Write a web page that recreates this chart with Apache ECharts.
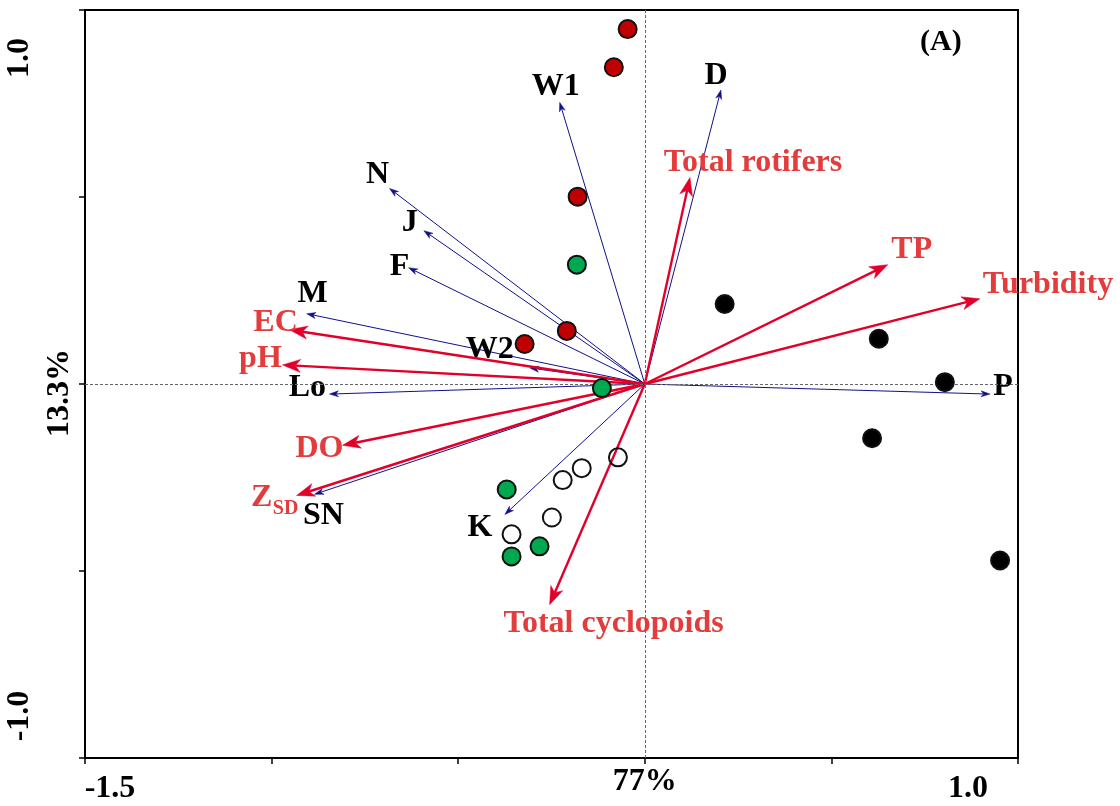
<!DOCTYPE html>
<html>
<head>
<meta charset="utf-8">
<script src="https://cdn.jsdelivr.net/npm/echarts@6/dist/echarts.min.js"></script>
<style>
html,body{margin:0;padding:0;background:#fff;}
#chart{width:1120px;height:806px;}
</style>
</head>
<body>
<div id="chart"></div>
<script>
// ---------- data ----------
// environmental variables (red arrows)
const envNames = ['Total rotifers', 'TP', 'Turbidity', 'EC', 'pH', 'DO', 'ZSD', 'Total cyclopoids'];
const envX = [0.121, 0.651, 0.898, -0.952, -0.971, -0.810, -0.933, -0.255];
const envY = [0.552, 0.319, 0.228, 0.145, 0.051, -0.164, -0.298, -0.590];

// species / sites (blue arrows)
const spNames = ['W1', 'D', 'N', 'J', 'F', 'M', 'W2', 'Lo', 'SN', 'K', 'P'];
const spX = [-0.228, 0.204, -0.684, -0.592, -0.633, -0.906, -0.308, -0.845, -0.885, -0.375, 0.925];
const spY = [0.753, 0.786, 0.523, 0.410, 0.311, 0.188, 0.043, -0.027, -0.295, -0.349, -0.027];

// sample scores
const redX = [-0.046, -0.083, -0.180, -0.209, -0.322];
const redY = [0.949, 0.847, 0.501, 0.142, 0.107];
const greenX = [-0.182, -0.115, -0.370, -0.282, -0.357];
const greenY = [0.319, -0.011, -0.282, -0.434, -0.461];
const openX = [-0.072, -0.169, -0.220, -0.249, -0.357];
const openY = [-0.196, -0.225, -0.257, -0.357, -0.402];
const blackX = [0.214, 0.627, 0.804, 0.609, 0.952];
const blackY = [0.214, 0.121, 0.005, -0.145, -0.472];

// axis tick labels
const xTickValues = [-1.5, 0, 1.0];
const xTickLabels = ['-1.5', '77%', '1.0'];
const yTickValues = [-1.0, 0, 1.0];
const yTickLabels = ['-1.0', '13.3%', '1.0'];

// ---------- layout (label offsets in px from arrow tips) ----------
const envLabelOffset = [[63, -15], [24, -15], [68, -14], [-14, -7], [-22, -6], [-23, 3], [-35, 2], [64, 19]];
const subLabelOffset = [-11, 13]; // subscript "SD" of Z_SD
const spLabelOffset = [[-4, -16], [-5, -14], [-12, -14], [-14, -8], [-9, -1], [6, -20], [-40, -18], [-22, -6], [9, 21], [-25, 13], [13, -7]];

const FONT = '"Liberation Serif", "Times New Roman", serif';
const FS = 32;

function pairs(xs, ys) { return xs.map((x, i) => [x, ys[i]]); }

function arrowSeries(name, names, xs, ys, opt) {
  return {
    name: name,
    type: 'custom',
    coordinateSystem: 'cartesian2d',
    silent: true,
    z: opt.z,
    data: xs.map((x, i) => [x, ys[i], i]),
    encode: { x: 0, y: 1 },
    renderItem: function (params, api) {
      const i = api.value(2);
      const o = api.coord([0, 0]);
      const p = api.coord([api.value(0), api.value(1)]);
      const dx = p[0] - o[0], dy = p[1] - o[1];
      const L = Math.sqrt(dx * dx + dy * dy);
      const ux = dx / L, uy = dy / L, nx = -uy, ny = ux;
      const bx = p[0] - ux * opt.headLen, by = p[1] - uy * opt.headLen;
      const mx = p[0] - ux * opt.headLen * 0.72, my = p[1] - uy * opt.headLen * 0.72;
      const hw = opt.headW / 2;
      const off = opt.offsets[i];
      const label = names[i];
      const children = [
        { type: 'line', shape: { x1: o[0], y1: o[1], x2: mx, y2: my }, style: { stroke: opt.color, lineWidth: opt.lineWidth } },
        { type: 'polygon', shape: { points: [[p[0], p[1]], [bx + nx * hw, by + ny * hw], [mx, my], [bx - nx * hw, by - ny * hw]] }, style: { fill: opt.color, stroke: opt.color, lineWidth: 0.5 } }
      ];
      if (label === 'ZSD') {
        children.push({ type: 'text', x: p[0] + off[0], y: p[1] + off[1], style: { text: 'Z', fill: opt.labelColor, fontFamily: FONT, fontWeight: 'bold', fontSize: FS, align: 'center', verticalAlign: 'middle' } });
        children.push({ type: 'text', x: p[0] + subLabelOffset[0], y: p[1] + subLabelOffset[1], style: { text: 'SD', fill: opt.labelColor, fontFamily: FONT, fontWeight: 'bold', fontSize: 20, align: 'center', verticalAlign: 'middle' } });
      } else {
        children.push({ type: 'text', x: p[0] + off[0], y: p[1] + off[1], style: { text: label, fill: opt.labelColor, fontFamily: FONT, fontWeight: 'bold', fontSize: FS, align: 'center', verticalAlign: 'middle' } });
      }
      return { type: 'group', children: children };
    }
  };
}

function findIdx(arr, v) {
  for (let i = 0; i < arr.length; i++) if (Math.abs(arr[i] - v) < 1e-6) return i;
  return -1;
}

const labelBase = { fontFamily: FONT, fontWeight: 'bold', fontSize: FS, color: '#000' };

const chart = echarts.init(document.getElementById('chart'), null, { renderer: 'canvas' });

const pointStyle = (fill) => ({ color: fill, borderColor: '#111', borderWidth: 2, opacity: 1 });

chart.setOption({
  animation: false,
  backgroundColor: '#fff',
  grid: { left: 85, right: 102, top: 10, bottom: 48, show: true, borderColor: '#000', borderWidth: 2, backgroundColor: 'transparent' },
  xAxis: {
    type: 'value', min: -1.5, max: 1.0, interval: 0.5,
    axisLine: { show: true, onZero: false, lineStyle: { color: '#000', width: 2 } },
    axisTick: { show: true, length: 6, lineStyle: { color: '#000', width: 1.5 } },
    splitLine: { show: false },
    axisLabel: {
      margin: 8,
      ...labelBase,
      formatter: function (v) {
        const i = findIdx(xTickValues, v);
        if (i < 0) return '';
        return '{x' + i + '|' + xTickLabels[i] + '}';
      },
      rich: {
        x0: { ...labelBase, padding: [7, 0, 0, 50] },
        x1: { ...labelBase, padding: [0, 0, 0, 0] },
        x2: { ...labelBase, padding: [7, 100, 0, 0] }
      }
    }
  },
  yAxis: {
    type: 'value', min: -1.0, max: 1.0, interval: 0.5,
    axisLine: { show: true, onZero: false, lineStyle: { color: '#000', width: 2 } },
    axisTick: { show: true, length: 6, lineStyle: { color: '#000', width: 1.5 } },
    splitLine: { show: false },
    axisLabel: {
      margin: 9,
      rotate: 90,
      ...labelBase,
      formatter: function (v) {
        const i = findIdx(yTickValues, v);
        if (i < 0) return '';
        return '{y' + i + '|' + yTickLabels[i] + '}';
      },
      rich: {
        y0: { ...labelBase, padding: [0, 0, 40, 84] },
        y1: { ...labelBase, padding: [0, 18, 0, 0] },
        y2: { ...labelBase, padding: [0, 96, 40, 0] }
      }
    }
  },
  graphic: [
    { type: 'text', left: 920, top: 27, z: 10, style: { text: '(A)', fill: '#000', fontFamily: FONT, fontWeight: 'bold', fontSize: 30 } }
  ],
  series: [
    {
      name: 'origin', type: 'scatter', data: [], silent: true, z: 1,
      markLine: {
        silent: true, symbol: ['none', 'none'], label: { show: false },
        lineStyle: { color: '#666', type: [3, 2], width: 1 },
        data: [{ xAxis: 0 }, { yAxis: 0 }]
      }
    },
    arrowSeries('species', spNames, spX, spY, { color: '#10108c', lineWidth: 1, headLen: 9, headW: 6, labelColor: '#000', offsets: spLabelOffset, z: 2 }),
    arrowSeries('environment', envNames, envX, envY, { color: '#e2002a', lineWidth: 2.4, headLen: 18, headW: 13, labelColor: '#e23c3c', offsets: envLabelOffset, z: 3 }),
    { name: 'red', type: 'scatter', z: 5, symbol: 'circle', symbolSize: 18, data: pairs(redX, redY), itemStyle: pointStyle('#c00000') },
    { name: 'green', type: 'scatter', z: 5, symbol: 'circle', symbolSize: 18, data: pairs(greenX, greenY), itemStyle: pointStyle('#00a84f') },
    { name: 'open', type: 'scatter', z: 5, symbol: 'circle', symbolSize: 18, data: pairs(openX, openY), itemStyle: pointStyle('rgba(255,255,255,0)') },
    { name: 'black', type: 'scatter', z: 5, symbol: 'circle', symbolSize: 18, data: pairs(blackX, blackY), itemStyle: pointStyle('#000') }
  ]
});
</script>
</body>
</html>
